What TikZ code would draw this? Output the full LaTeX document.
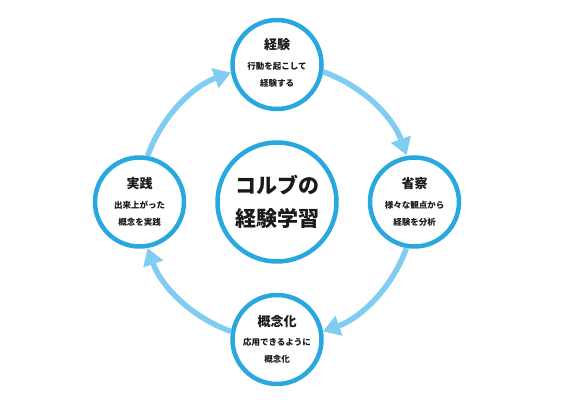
\documentclass[tikz,border=0pt]{standalone}
\usepackage{fontspec}
\setmainfont{Noto Sans CJK JP}
\usepackage{tikz}
\usetikzlibrary{arrows.meta, positioning}
\definecolor{ring}{RGB}{41, 168, 224}
\definecolor{flowblue}{RGB}{128, 204, 242}
\definecolor{ink}{RGB}{26, 26, 26}

\begin{document}
\begin{tikzpicture}[
    x=1pt, y=1pt,
    node distance=29pt,
    stage/.style={circle, draw=ring, line width=4.5pt, fill=white, minimum size=89pt, inner sep=0pt},
    core/.style={circle, draw=ring, line width=4.5pt, fill=white, minimum size=119pt, inner sep=0pt, align=center, text=ink, font=\bfseries\fontsize{21}{33}\selectfont},
    title/.style={text=ink, font=\bfseries\fontsize{13}{15}\selectfont, inner sep=0pt},
    desc/.style={text=ink, align=center, font=\bfseries\fontsize{8.5}{17}\selectfont, inner sep=0pt},
    flow/.style={-{Triangle[width=20pt, length=17pt]}, line width=5.5pt, draw=flowblue}
  ]
    \useasboundingbox (0,0) rectangle (563,404);

    \node[core] (kolb) at (277,202) {コルブの\\経験学習};

    \node[stage, above=of kolb] (keiken) {};
    \node[stage, right=of kolb] (seisatsu) {};
    \node[stage, below=of kolb] (gainen) {};
    \node[stage, left=of kolb] (jissen) {};

    \node[title] at ([yshift=20pt]keiken.center) {経験};
    \node[desc] at ([yshift=-10.5pt]keiken.center) {行動を起こして\\経験する};

    \node[title] at ([yshift=18pt]seisatsu.center) {省察};
    \node[desc] at ([yshift=-11.5pt]seisatsu.center) {様々な観点から\\経験を分析};

    \node[title] at ([yshift=18pt]gainen.center) {概念化};
    \node[desc] at ([yshift=-11.5pt]gainen.center) {応用できるように\\概念化};

    \node[title] at ([yshift=18pt]jissen.center) {実践};
    \node[desc] at ([yshift=-11.5pt]jissen.center) {出来上がった\\概念を実践};

    % arcs on the ring through the four stage centres
    \draw[flow] (keiken.-9.7) arc[start angle=70.4, end angle=19.6, radius=137.5];
    \draw[flow] (seisatsu.260.3) arc[start angle=-19.6, end angle=-70.4, radius=137.5];
    \draw[flow] (gainen.170.3) arc[start angle=-109.6, end angle=-160.4, radius=137.5];
    \draw[flow] (jissen.80.3) arc[start angle=160.4, end angle=109.6, radius=137.5];
  \end{tikzpicture}
\end{document}
